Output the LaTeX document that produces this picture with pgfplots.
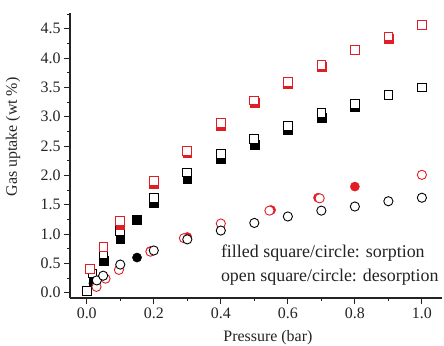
\documentclass[border=0pt]{standalone}
\usepackage{fontspec}
\setmainfont{Liberation Serif}
\usepackage{pgfplots}
\pgfplotsset{compat=1.18}
\definecolor{myred}{RGB}{225,30,40}
\definecolor{txt}{RGB}{35,35,35}
\begin{document}
\begin{tikzpicture}
\begin{axis}[name=ax,
  scale only axis, width=372bp, height=285bp,
  xmin=-0.05, xmax=1.06, ymin=-0.09, ymax=4.77,
  axis x line*=bottom, axis y line*=left,
  axis line style={line width=1.1pt, color=txt, -},
  tick align=outside,
  major tick length=6bp, minor tick length=3bp,
  every tick/.style={line width=0.9pt, color=txt},
  xtick={0,0.2,0.4,0.6,0.8,1.0}, minor xtick={0.1,0.3,0.5,0.7,0.9},
  ytick={0,0.5,...,4.5}, minor ytick={0.25,0.75,...,4.75},
  xticklabel style={/pgf/number format/.cd, fixed, fixed zerofill, precision=1},
  yticklabel style={/pgf/number format/.cd, fixed, fixed zerofill, precision=1},
  /pgf/number format/assume math mode=true,
  tick label style={font=\fontsize{16}{18}\selectfont, color=txt},
  xlabel={Pressure (bar)}, ylabel={Gas uptake (wt \%)},
  label style={font=\fontsize{16}{19}\selectfont, color=txt},
  xlabel style={at={(axis description cs:0.532,-0.14)}, anchor=center},
  ylabel style={at={(axis description cs:-0.153,0.565)}, anchor=center, rotate=0},
  clip=false,
]
% black filled squares
\addplot[only marks, mark=square*, mark size=4.4bp, color=black, mark options={solid}] coordinates {
(0.02,0.20) (0.05,0.54) (0.1,0.92) (0.15,1.24) (0.2,1.53) (0.3,1.95) (0.4,2.28) (0.5,2.53) (0.6,2.78) (0.7,2.99) (0.8,3.17)};
% black open squares
\addplot[only marks, mark=square*, mark size=4.4bp, mark options={draw=black, fill=white, line width=0.9pt}] coordinates {
(0.0,0.03) (0.017,0.33) (0.05,0.66) (0.1,1.06) (0.2,1.62) (0.3,2.05) (0.4,2.37) (0.5,2.62) (0.6,2.85) (0.7,3.06) (0.8,3.22) (0.9,3.37) (1.0,3.50)};
% red filled squares
\addplot[only marks, mark=square*, mark size=4.4bp, color=myred] coordinates {
(0.1,1.15) (0.2,1.85) (0.3,2.38) (0.4,2.85) (0.5,3.24) (0.6,3.57) (0.7,3.85) (0.9,4.33)};
% red open squares
\addplot[only marks, mark=square*, mark size=4.4bp, mark options={draw=myred, fill=white, line width=0.9pt}] coordinates {
(0.01,0.40) (0.05,0.78) (0.1,1.22) (0.2,1.91) (0.3,2.42) (0.4,2.89) (0.5,3.28) (0.6,3.60) (0.7,3.88) (0.8,4.14) (0.9,4.37) (1.0,4.57)};
% black filled circles
\addplot[only marks, mark=*, mark size=4.6bp, color=black] coordinates {
(0.02,0.16) (0.15,0.60)};
% red filled circles
\addplot[only marks, mark=*, mark size=4.6bp, color=myred] coordinates {
(0.19,0.71) (0.3,0.95) (0.55,1.41) (0.69,1.62) (0.8,1.81)};
% red open circles
\addplot[only marks, mark=*, mark size=4.6bp, mark options={draw=myred, fill=white, line width=0.9pt}] coordinates {
(0.029,0.10) (0.056,0.24) (0.096,0.39) (0.19,0.70) (0.29,0.93) (0.4,1.18) (0.545,1.40) (0.695,1.61) (1.0,2.01)};
% black open circles
\addplot[only marks, mark=*, mark size=4.6bp, mark options={draw=black, fill=white, line width=0.9pt}] coordinates {
(0.03,0.21) (0.049,0.29) (0.1,0.48) (0.2,0.72) (0.3,0.91) (0.4,1.06) (0.5,1.19) (0.6,1.30) (0.7,1.40) (0.8,1.47) (0.9,1.56) (1.0,1.62)};
\node[anchor=west, font=\fontsize{18}{22}\selectfont, color=txt, inner sep=0pt] at (axis cs:0.40,0.68) {filled square/circle: sorption};
\node[anchor=west, font=\fontsize{18}{22}\selectfont, color=txt, inner sep=0pt] at (axis cs:0.40,0.27) {open square/circle: desorption};
\end{axis}
\pgfresetboundingbox
\path[use as bounding box] ([shift={(-70bp,-48bp)}]ax.south west) rectangle ([shift={(374bp,298bp)}]ax.south west);
\end{tikzpicture}
\end{document}
